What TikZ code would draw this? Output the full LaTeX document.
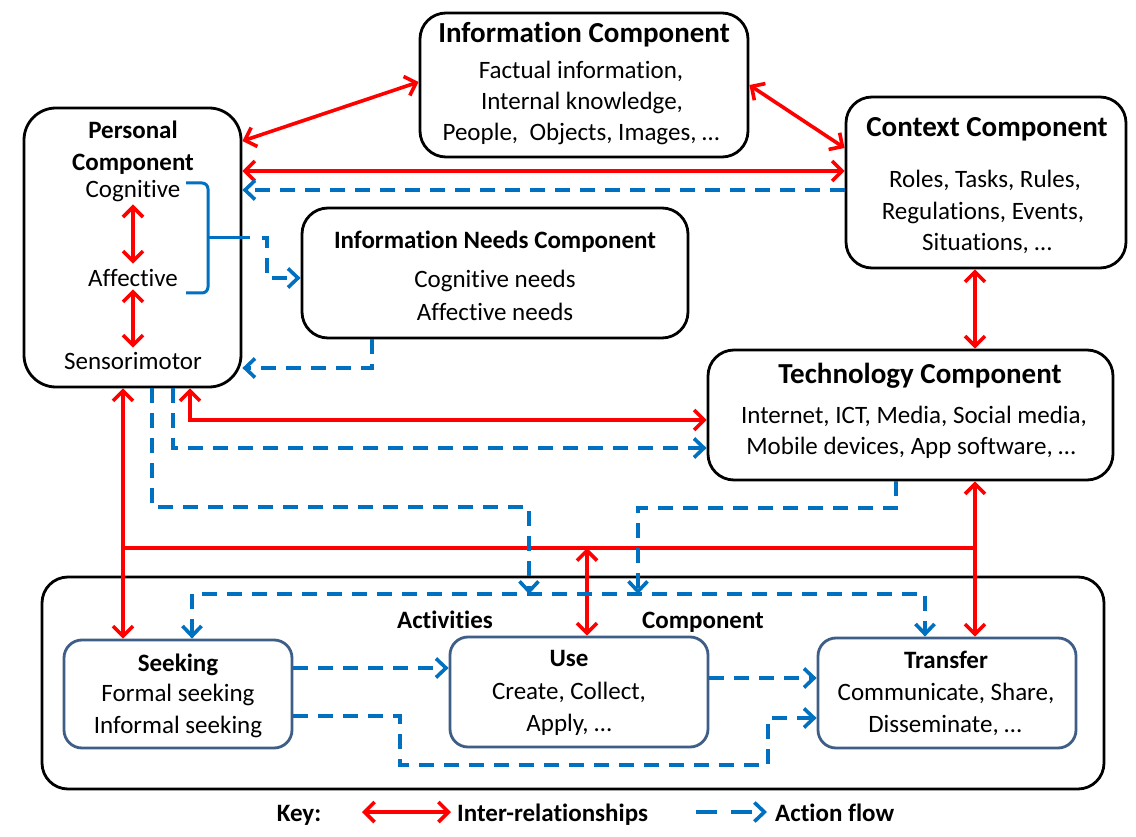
\documentclass[tikz,border=0pt]{standalone}
\usepackage{fontspec}
\setmainfont{Carlito}[Ligatures={NoCommon,NoContextual}]
\usetikzlibrary{arrows.meta}
\newcommand{\nolig}{\kern0pt}
\definecolor{flowblue}{RGB}{0,112,192}
\definecolor{subblue}{RGB}{62,94,135}
\definecolor{relred}{RGB}{255,0,0}
\tikzset{
  box/.style={draw=black, line width=2.8pt, rounded corners=26pt, inner sep=0pt},
  subbox/.style={draw=subblue, line width=2.8pt, rounded corners=18pt, inner sep=0pt},
  txt/.style={anchor=base, inner sep=0pt, font=\fontsize{25}{30}\selectfont},
  hd/.style={anchor=base, inner sep=0pt, font=\bfseries\fontsize{25}{30}\selectfont},
  ttl/.style={anchor=base, inner sep=0pt, font=\bfseries\fontsize{29}{34}\selectfont},
  barb/.tip={Straight Barb[length=10pt,width=20pt]},
  rel/.style={draw=relred, line width=3.6pt, barb-barb},
  relline/.style={draw=relred, line width=3.6pt},
  flow/.style={draw=flowblue, line width=3.6pt, dash pattern=on 15pt off 10pt, -{Straight Barb[length=10pt,width=19pt]}},
  flowboth/.style={flow, {Straight Barb[length=10pt,width=19pt]}-{Straight Barb[length=10pt,width=19pt]}},
  bracket/.style={draw=flowblue, line width=3pt, rounded corners=6pt},
}
\begin{document}
\begin{tikzpicture}[x=1pt,y=-1pt]
\fill[white] (0,0) rectangle (1136,837);
\useasboundingbox (0,0) rectangle (1136,837);

% ---- component boxes ----
\node[box, minimum width=328pt, minimum height=144pt] (info) at (584,85) {};
\node[box, rounded corners=32pt, minimum width=217pt, minimum height=279pt] (personal) at (132.5,247.5) {};
\node[box, minimum width=280pt, minimum height=171pt] (context) at (986,182.5) {};
\node[box, minimum width=386pt, minimum height=130pt] (needs) at (495,273) {};
\node[box, minimum width=405pt, minimum height=130pt] (tech) at (910.5,415) {};
\node[box, minimum width=1062pt, minimum height=212pt] (act) at (573,683) {};
\node[subbox, minimum width=228pt, minimum height=108pt] (seek) at (178,694) {};
\node[subbox, minimum width=258pt, minimum height=110pt] (use) at (579,692) {};
\node[subbox, minimum width=258pt, minimum height=110pt] (trans) at (947,693) {};

% ---- texts (\nolig keeps letter pairs such as t-i apart) ----
\node[ttl] (infoT) at (584,43) {Informat\nolig ion Component};
\node[txt] (info1) at (581,79) {Factual informat\nolig ion,};
\node[txt] (info2) at (582,110) {Internal knowledge,};
\node[txt] (info3) at (581,141) {People,\ \ Objects, Images, …};

\node[hd] (persT1) at (133,139) {Personal};
\node[hd] (persT2) at (133,171) {Component};
\node[txt] (cog) at (133,198) {Cognit\nolig ive};
\node[txt] (aff) at (133,287) {Af\nolig fect\nolig ive};
\node[txt] (sens) at (133,369) {Sensorimotor};

\node[ttl] (ctxT) at (987,137) {Context Component};
\node[txt] (ctx1) at (985,188) {Roles, Tasks, Rules,};
\node[txt] (ctx2) at (983,220) {Regulat\nolig ions, Events,};
\node[txt] (ctx3) at (987,251) {Situat\nolig ions, …};

\node[hd] (needsT) at (495,249) {Informat\nolig ion Needs Component};
\node[txt] (needs1) at (495,288) {Cognit\nolig ive needs};
\node[txt] (needs2) at (495,320) {Af\nolig fect\nolig ive needs};

\node[ttl] (techT) at (920,383) {Technology Component};
\node[txt] (tech1) at (914,423) {Internet, ICT, Media, Social media,};
\node[txt] (tech2) at (911,454) {Mobile devices, App sof\nolig tware, …};

\node[hd] (actT1) at (445,628) {Act\nolig ivit\nolig ies};
\node[hd] (actT2) at (703,628) {Component};

\node[hd] (seekT) at (178,671) {Seeking};
\node[txt] (seek1) at (178,701) {Formal seeking};
\node[txt] (seek2) at (178,733) {Informal seeking};

\node[hd] (useT) at (569,666) {Use};
\node[txt] (use1) at (569,699) {Create, Collect,};
\node[txt] (use2) at (569,731) {Apply, …};

\node[hd] (transT) at (946,668) {Transfer};
\node[txt] (trans1) at (946,700) {Communicate, Share,};
\node[txt] (trans2) at (945,732) {Disseminate, …};

% ---- inter-relationships ----
\draw[rel] (personal.east |- 0,141) -- (info.west |- 0,82);
\draw[rel] (info.east |- 0,85) -- (context.west |- 0,148);
\draw[rel] (personal.east |- 0,171) -- (context.west |- 0,171);
\draw[rel] ([yshift=-2pt]cog.south) -- ([yshift=6pt]aff.north);
\draw[rel] ([yshift=-2pt]aff.south) -- ([yshift=4pt]sens.north);
\draw[rel] (context.south -| 975,0) -- (tech.north -| 975,0);
\draw[rel] (personal.south -| 190,0) -- (190,420) -- (tech.west |- 0,420);
\coordinate (jl) at (123,548);
\coordinate (jm) at (587,548);
\coordinate (jr) at (975,548);
\draw[relline] (jl) -- (jr);
\draw[rel] (personal.south -| 123,0) -- (seek.north -| 123,0);
\draw[rel] (tech.south -| 975,0) -- (trans.north -| 975,0);
\draw[rel] (jm) -- (use.north -| 587,0);

% ---- action flows ----
\draw[flow] (context.west |- 0,190) -- (personal.east |- 0,190);
\draw[bracket] (186,183) -- (208,183) -- (208,238) -- (208,293) -- (186,293);
\draw[draw=flowblue, line width=3pt] (208,238) -- (250,238);
\draw[flow] (262,238) -- (267,238) -- (267,278) -- (needs.west |- 0,278);
\draw[flow] (needs.south -| 372,0) -- (372,368) -- (personal.east |- 0,368);
\draw[flow] (personal.south -| 173,0) -- (173,448) -- (tech.west |- 0,448);
\coordinate (m1) at (529,594);
\coordinate (m2) at (638,594);
\draw[flow] (personal.south -| 152,0) -- (152,507) -- (529,507) -- (m1);
\draw[flow] (tech.south -| 896,0) -- (896,508) -- (638,508) -- (m2);
\draw[flowboth] (seek.north -| 192,0) -- (192,594) -- (925,594) -- (trans.north -| 925,0);
\draw[flow] (seek.east |- 0,668) -- (use.west |- 0,668);
\draw[flow] (use.east |- 0,678) -- (trans.west |- 0,678);
\draw[flow] (seek.east |- 0,716) -- (400,716) -- (400,765) -- (768,765) -- (768,718) -- (trans.west |- 0,718);

% ---- key ----
\node[hd] (key) at (299,821) {Key:};
\coordinate (ka) at (362,812);
\coordinate (kb) at (451,812);
\draw[rel] (ka) -- (kb);
\node[hd, anchor=base west] (keyrel) at (457,821) {Inter-relat\nolig ionships};
\coordinate (kc) at (696,812);
\coordinate (kd) at (767,812);
\draw[flow, dash pattern=on 21pt off 14pt] (kc) -- (kd);
\node[hd, anchor=base west] (keyflow) at (775,821) {Act\nolig ion f\nolig low};
\end{tikzpicture}
\end{document}
